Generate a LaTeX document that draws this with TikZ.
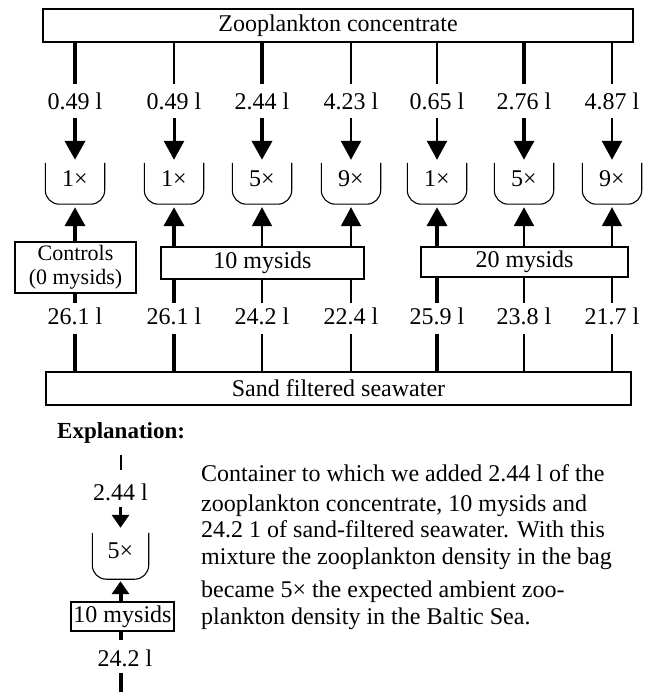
\documentclass[tikz,border=0pt]{standalone}
\usepackage{fontspec}
\setmainfont{Liberation Serif}
\usetikzlibrary{arrows.meta}

\begin{document}
\begin{tikzpicture}[x=1pt,y=-1pt,
  txt/.style={font=\fontsize{24}{18}\selectfont},
  every node/.style={txt},
  frame/.style={draw, line width=1.3pt, inner sep=0pt},
  vol/.style={inner sep=0pt, text height=17pt, text depth=0pt, anchor=base},
  bag/.style={inner sep=0pt, text height=16pt, text depth=10pt,
              minimum width=59pt, minimum height=41pt},
  bagline/.style={draw, line width=1.1pt, rounded corners=14pt},
  bigtip/.style={-{Triangle[length=19pt,width=20pt]}},
  smalltip/.style={-{Triangle[length=13pt,width=17pt]}},
  para/.style={anchor=base west, inner sep=0pt},
  tight/.style={anchor=base, inner sep=0pt, font=\fontsize{22}{18}\selectfont},
]
\useasboundingbox (0,0) rectangle (651,692);

% sources and treatment boxes
\node[frame, minimum width=590pt, minimum height=33pt] (zc) at (338,25.5) {Zooplankton concentrate};
\node[frame, minimum width=585pt, minimum height=33pt] (sw) at (338.5,388.5) {Sand filtered seawater};
\node[frame, minimum width=121pt, minimum height=51pt] (ctrl) at (75.5,267.5) {};
\node[tight] (ctrlA) at (75.5,260) {Controls};
\node[tight] (ctrlB) at (75.5,284.5) {(0 mysids)};
\node[frame, minimum width=203pt, minimum height=32pt] (m10) at (262.5,263) {10 mysids};
\node[frame, minimum width=207pt, minimum height=30pt] (m20) at (524.5,262) {20 mysids};

% one column per bag: concentrate volume, bag, seawater volume
\foreach \i/\x/\wt/\wa/\wb/\src/\qa/\qd/\qs in {
  1/75/4/4/4/ctrl/0.49/1/26.1,
  2/174/2/3/4/m10/0.49/1/26.1,
  3/262/4/4/2/m10/2.44/5/24.2,
  4/351/2/2.5/2/m10/4.23/9/22.4,
  5/437/2/2.5/4/m20/0.65/1/25.9,
  6/524/4/3.5/2.5/m20/2.76/5/23.8,
  7/612/2/2.5/2/m20/4.87/9/21.7}{
  \node[vol] (t\i) at (\x,110) {\qa{} l};
  \node[bag] (c\i) at (\x,183.5) {\qd×};
  \node[vol] (v\i) at (\x,324) {\qs{} l};
  \draw[line width=\wt pt, shorten >=9pt] (t\i |- zc.south) -- (t\i.north);
  \draw[line width=\wa pt, bigtip, shorten <=8pt, shorten >=3pt] (t\i.south) -- (c\i.north);
  \draw[bagline] (c\i.north west) -- (c\i.south west) -- (c\i.south east) -- (c\i.north east);
  \draw[line width=\wb pt, bigtip, shorten >=3pt] (\src.north -| c\i) -- (c\i.south);
  \draw[line width=\wb pt, shorten >=4pt] (\src.south -| v\i) -- (v\i.north);
  \draw[line width=\wb pt, shorten <=10pt] (v\i.south) -- (v\i |- sw.north);
}

% legend
\node[para, font=\fontsize{23}{24}\selectfont\bfseries] (ex) at (57,438) {Explanation:};
\coordinate (etop) at (120.5,455);
\coordinate (ebot) at (120.5,692);
\node[vol] (et) at (120.5,500) {2.44 l};
\node[bag, minimum width=56pt, minimum height=46pt, text depth=12pt] (ec) at (120.5,556) {5×};
\node[frame, minimum width=103pt, minimum height=29pt] (em) at (122.5,616.5) {10 mysids};
\node[vol] (ev) at (125,666) {24.2 l};

\draw[line width=2pt, shorten >=13pt] (etop) -- (et.north -| etop);
\draw[line width=3.5pt, smalltip, shorten <=7pt, shorten >=5pt] (et.south -| etop) -- (ec.north);
\draw[bagline] (ec.north west) -- (ec.south west) -- (ec.south east) -- (ec.north east);
\draw[line width=4pt, smalltip, shorten >=2pt] (em.north -| ec) -- (ec.south);
\draw[line width=4pt, shorten >=9pt] (em.south -| ec) -- (ev.north -| ec);
\draw[line width=4pt, shorten <=7pt] (ev.south -| ec) -- (ebot);

\node[para] (p1) at (201,481) {Container to which we added 2.44 l of the};
\node[para] (p2) at (201,511) {zooplankton concentrate, 10 mysids and};
\node[para] (p3) at (201,537) {24.2 1 of sand-filtered seawater. With this};
\node[para] (p4) at (201,564) {mixture the zooplankton density in the bag};
\node[para] (p5) at (201,597) {became 5× the expected ambient zoo-};
\node[para] (p6) at (201,624) {plankton density in the Baltic Sea.};
\end{tikzpicture}
\end{document}
